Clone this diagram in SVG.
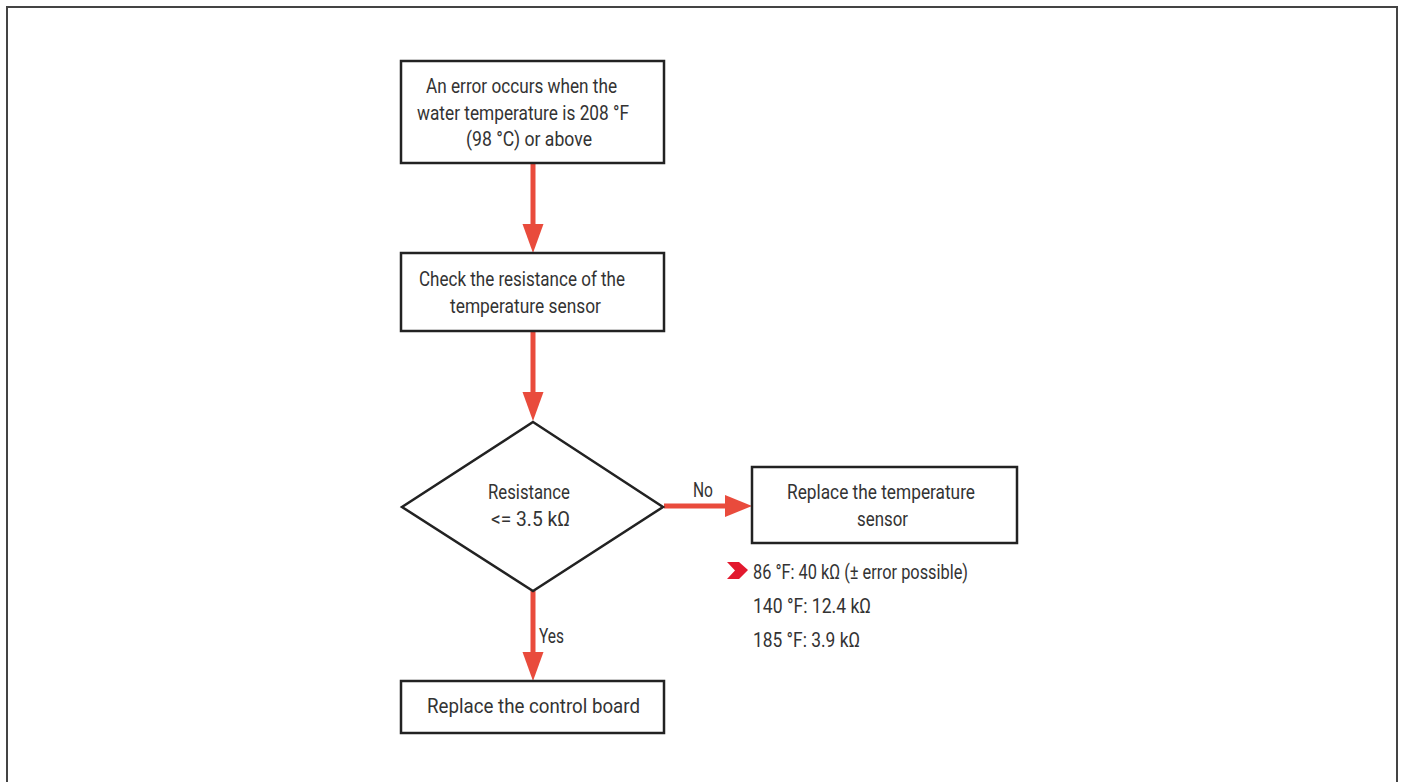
<svg xmlns="http://www.w3.org/2000/svg" width="1401" height="782" viewBox="0 0 1401 782">
<style>
.node{fill:#fff;stroke:#222;stroke-width:2.5}
.t{font-family:Roboto,"Liberation Sans",sans-serif;font-size:20.5px;fill:#333}
.c{stroke:#e94b3c;stroke-width:5;fill:none}
.h{fill:#e94b3c}
</style>
<rect x="7" y="7" width="1390" height="790" fill="#fff" stroke="#444" stroke-width="2"/>
<g id="connectors">
<path class="c" d="M533,163 V227"/>
<path class="h" d="M522.5,224 L543.5,224 L533,253 Z"/>
<path class="c" d="M533,331 V395"/>
<path class="h" d="M522.5,392 L543.5,392 L533,421 Z"/>
<path class="c" d="M664,506 H728"/>
<path class="h" d="M725,495 L725,517 L752,506 Z"/>
<path class="c" d="M533,591 V655"/>
<path class="h" d="M522.5,652 L543.5,652 L533,681 Z"/>
<text class="t" x="693" y="497" textLength="20" lengthAdjust="spacingAndGlyphs">No</text>
<text class="t" x="539" y="643" textLength="25" lengthAdjust="spacingAndGlyphs">Yes</text>
</g>
<g id="n1">
<rect class="node" x="401" y="61" width="263" height="102"/>
<text class="t" x="426" y="93" textLength="191" lengthAdjust="spacingAndGlyphs">An error occurs when the</text>
<text class="t" x="417" y="120" textLength="212" lengthAdjust="spacingAndGlyphs">water temperature is 208 °F</text>
<text class="t" x="466" y="146" textLength="126" lengthAdjust="spacingAndGlyphs">(98 °C) or above</text>
</g>
<g id="n2">
<rect class="node" x="401" y="253" width="263" height="78"/>
<text class="t" x="419" y="286" textLength="206" lengthAdjust="spacingAndGlyphs">Check the resistance of the</text>
<text class="t" x="450" y="313" textLength="151" lengthAdjust="spacingAndGlyphs">temperature sensor</text>
</g>
<g id="n3">
<path class="node" d="M533,422 L663,507 L533,591 L402,507 Z"/>
<text class="t" x="488" y="499" textLength="82" lengthAdjust="spacingAndGlyphs">Resistance</text>
<text class="t" x="491" y="526" textLength="79" lengthAdjust="spacingAndGlyphs">&lt;= 3.5 kΩ</text>
</g>
<g id="n4">
<rect class="node" x="752" y="467" width="265" height="76"/>
<text class="t" x="787" y="499" textLength="188" lengthAdjust="spacingAndGlyphs">Replace the temperature</text>
<text class="t" x="857" y="526" textLength="51" lengthAdjust="spacingAndGlyphs">sensor</text>
</g>
<g id="notes">
<path d="M727,562 L739,562 L748,570 L739,579 L727,579 L735,570.5 Z" fill="#e2192e"/>
<text class="t" x="753" y="579" textLength="215" lengthAdjust="spacingAndGlyphs">86 °F: 40 kΩ (± error possible)</text>
<text class="t" x="753" y="613" textLength="118" lengthAdjust="spacingAndGlyphs">140 °F: 12.4 kΩ</text>
<text class="t" x="753" y="647" textLength="107" lengthAdjust="spacingAndGlyphs">185 °F: 3.9 kΩ</text>
</g>
<g id="n5">
<rect class="node" x="401" y="681" width="263" height="52"/>
<text class="t" x="427" y="713" textLength="213" lengthAdjust="spacingAndGlyphs">Replace the control board</text>
</g>
</svg>
